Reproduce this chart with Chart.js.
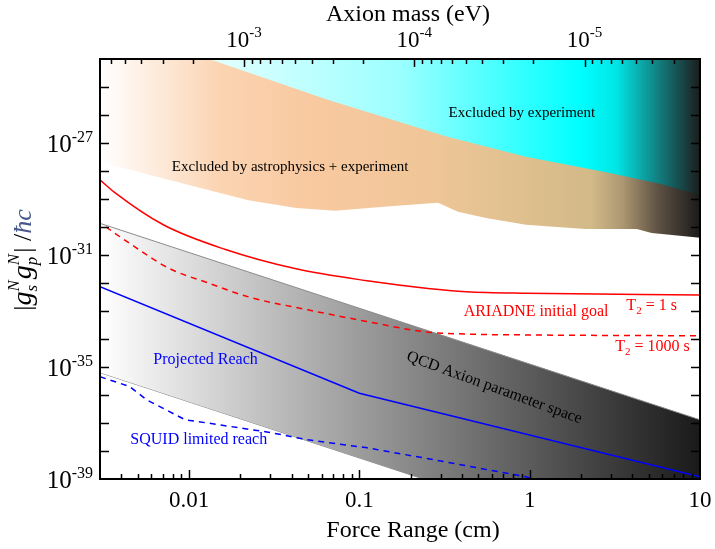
<!DOCTYPE html>
<html>
<head>
<meta charset="utf-8">
<script src="https://cdn.jsdelivr.net/npm/chart.js@4.4.1/dist/chart.umd.min.js"></script>
<style>
  html, body { margin: 0; padding: 0; background: #fff; }
  #wrap { width: 715px; height: 549px; }
</style>
</head>
<body>
<div id="wrap"><canvas id="chart" width="715" height="549"></canvas></div>
<script>
/* ── Data (force range in cm, coupling |gs gp|/ħc) ── */
const astroTopX = [0.003, 0.0131, 0.0652, 0.325, 0.95, 2.77, 5.8, 10];
const astroTopY = [1e-24, 1e-24, 3.5e-26, 1.7e-27, 3.2e-28, 9.3e-29, 3.5e-29, 1.4e-29];

const astroLowX = [0.003, 0.00766, 0.0223, 0.0425, 0.0724, 0.145, 0.29, 0.379, 0.555, 0.95, 2.11, 4.25, 5.2, 10];
const astroLowY = [2.1e-28, 4.8e-29, 9.1e-30, 4.8e-30, 3.8e-30, 5.4e-30, 7.4e-30, 3.5e-30, 2.1e-30, 1.2e-30, 8.5e-31, 8.5e-31, 6.1e-31, 4.1e-31];

const qcdX      = [0.003, 10];
const qcdUpperY = [1.35e-30, 1.3e-37];
const qcdLowerY = [6.3e-36, 5.6e-43];

const t1X = [0.003, 0.00362, 0.00706, 0.0162, 0.0425, 0.111, 0.253, 0.425, 0.95, 10];
const t1Y = [4.8e-29, 1.8e-29, 1.2e-30, 1.6e-31, 3.2e-32, 1.2e-32, 6.4e-33, 4.9e-33, 4.3e-33, 3.7e-33];

const t1000X = [0.00325, 0.00448, 0.00766, 0.0131, 0.0223, 0.0499, 0.111, 0.245, 0.425, 0.95, 10];
const t1000Y = [1.0e-30, 2.6e-31, 3.3e-32, 9.8e-33, 3.2e-33, 1.1e-33, 4.2e-34, 1.8e-34, 1.5e-34, 1.4e-34, 1.3e-34];

const reachX = [0.003, 0.1, 10];
const reachY = [7.4e-33, 1.15e-36, 1.2e-39];

const squidX = [0.003, 0.00448, 0.00567, 0.0095, 0.0131, 0.0292, 0.0499, 0.111, 0.245, 0.555, 0.95, 1.9];
const squidY = [4.5e-36, 2.0e-36, 6.6e-37, 1.3e-37, 9.8e-38, 4.7e-38, 2.5e-38, 1.3e-38, 5.5e-39, 2.2e-39, 1.2e-39, 4e-40];

/* ── Axis ticks ── */
const xTickVals   = [0.01, 0.1, 1, 10];
const xTickLabels = ['0.01', '0.1', '1', '10'];
const yTickExps   = [-27, -31, -35, -39];
const massTickExps = [-3, -4, -5];
const lambdaMass  = 2.1e-5;   // eV·cm, mass ↔ range

const SERIF = '"Liberation Serif", "Times New Roman", serif';
const zip = (xs, ys) => xs.map((x, i) => ({ x, y: ys[i] }));

function hGradient(stops) {
  return (ctx) => {
    const { chart } = ctx;
    const a = chart.chartArea;
    if (!a) return 'rgba(0,0,0,0)';
    const g = chart.ctx.createLinearGradient(a.left, 0, a.right, 0);
    stops.forEach(([p, c]) => g.addColorStop(p, c));
    return g;
  };
}

const cyanFill = hGradient([[0, '#ffffff'], [0.18, '#e4ffff'], [0.5, '#9cffff'], [0.8, '#00ffff'], [0.86, '#00e6e6'], [0.93, '#127f80'], [1, '#1c1c1c']]);
const orangeFill = hGradient([[0, '#ffffff'], [0.2, '#fbd4b2'], [0.35, '#f9c9a0'], [0.55, '#efc698'], [0.7, '#dfc08e'], [0.82, '#d2b988'], [0.87, '#ad9872'], [0.93, '#5e5244'], [1, '#1a1a1a']]);
const grayFill = hGradient([[0, '#ffffff'], [1, '#1a1a1a']]);

/* ── Text inside the plot (data coordinates) ── */
const notes = [
  { text: 'Excluded by experiment', x: 0.90, y: 1.18e-26, color: '#000', size: 15 },
  { text: 'Excluded by astrophysics + experiment', x: 0.0392, y: 1.4e-28, color: '#000', size: 15 },
  { text: 'ARIADNE initial goal', x: 1.09, y: 9.6e-34, color: '#ff0000', size: 16 },
  { text: 'Projected Reach', x: 0.0125, y: 1.8e-35, color: '#0000ff', size: 16 },
  { text: 'SQUID limited reach', x: 0.0114, y: 2.5e-38, color: '#0000ff', size: 16 },
  { text: 'QCD Axion parameter space', x: 0.62, y: 1.8e-36, color: '#000', size: 16, rot: 20 },
];

function drawPower(c, x, y, exp, big, small, align) {
  c.font = big + 'px ' + SERIF;
  const wb = c.measureText('10').width;
  c.font = small + 'px ' + SERIF;
  const sup = String(exp);
  const ws = c.measureText(sup).width;
  const x0 = align === 'right' ? x - wb - ws : x - (wb + ws) / 2;
  c.textAlign = 'left';
  c.textBaseline = 'alphabetic';
  c.font = big + 'px ' + SERIF;
  c.fillText('10', x0, y);
  c.font = small + 'px ' + SERIF;
  c.fillText(sup, x0 + wb, y - big * 0.42);
}

function drawT2(c, x, y, rest, color) {
  c.fillStyle = color;
  c.textAlign = 'left';
  c.textBaseline = 'middle';
  c.font = '16px ' + SERIF;
  const wT = c.measureText('T').width;
  c.font = '11px ' + SERIF;
  const w2 = c.measureText('2').width;
  c.font = '16px ' + SERIF;
  const wr = c.measureText(rest).width;
  let x0 = x - (wT + w2 + wr) / 2;
  c.fillText('T', x0, y);
  c.font = '11px ' + SERIF;
  c.fillText('2', x0 + wT, y + 5);
  c.font = '16px ' + SERIF;
  c.fillText(rest, x0 + wT + w2, y);
}

function drawYTitle(c, cx, cy) {
  const segs = [
    { t: '|', size: 26 },
    { t: 'g', size: 28, it: true },
    { stack: [{ t: 'N', dy: -12 }, { t: 's', dy: 6 }], size: 17 },
    { t: 'g', size: 28, it: true },
    { stack: [{ t: 'N', dy: -12 }, { t: 'p', dy: 6 }], size: 17 },
    { t: '|', size: 26 },
    { t: ' /', size: 26 },
    { t: 'ħc', size: 26, it: true, color: '#46578a' },
  ];
  const fontOf = (s, it) => (it ? 'italic ' : '') + s + 'px ' + SERIF;
  let total = 0;
  segs.forEach(s => {
    if (s.stack) {
      c.font = fontOf(s.size, true);
      s.w = Math.max(...s.stack.map(p => c.measureText(p.t).width)) + 1;
    } else {
      c.font = fontOf(s.size, s.it);
      s.w = c.measureText(s.t).width;
    }
    total += s.w;
  });
  c.save();
  c.translate(cx, cy);
  c.rotate(-Math.PI / 2);
  c.textAlign = 'left';
  c.textBaseline = 'alphabetic';
  let x = -total / 2;
  segs.forEach(s => {
    c.fillStyle = s.color || '#000';
    if (s.stack) {
      c.font = fontOf(s.size, true);
      s.stack.forEach(p => c.fillText(p.t, x, p.dy));
    } else {
      c.font = fontOf(s.size, s.it);
      c.fillText(s.t, x, 0);
    }
    x += s.w;
  });
  c.restore();
}

/* ── Frame, inward ticks, labels and notes ── */
const framePlugin = {
  id: 'frame',
  afterDatasetsDraw(chart) {
    const c = chart.ctx;
    const { x, y } = chart.scales;
    c.save();
    notes.forEach(n => {
      c.fillStyle = n.color;
      c.font = n.size + 'px ' + SERIF;
      c.textAlign = 'center';
      c.textBaseline = 'middle';
      const px = x.getPixelForValue(n.x), py = y.getPixelForValue(n.y);
      if (n.rot) {
        c.save();
        c.translate(px, py);
        c.rotate(n.rot * Math.PI / 180);
        c.fillText(n.text, 0, 0);
        c.restore();
      } else {
        c.fillText(n.text, px, py);
      }
    });
    drawT2(c, x.getPixelForValue(5.2), y.getPixelForValue(1.5e-33), ' = 1 s', '#ff0000');
    drawT2(c, x.getPixelForValue(5.26), y.getPixelForValue(5.2e-35), ' = 1000 s', '#ff0000');
    c.restore();
  },
  afterDraw(chart) {
    const c = chart.ctx;
    const { x, y, x2 } = chart.scales;
    const a = chart.chartArea;
    c.save();
    c.strokeStyle = '#000';
    c.lineWidth = 1.5;
    c.beginPath();
    // y decade ticks, both sides
    for (let e = -38; e <= -25; e++) {
      const py = Math.round(y.getPixelForValue(Math.pow(10, e))) + 0.5;
      c.moveTo(a.left, py); c.lineTo(a.left + 9, py);
      c.moveTo(a.right, py); c.lineTo(a.right - 9, py);
    }
    // bottom: force range
    for (let e = -3; e <= 1; e++) {
      for (let k = 1; k <= 9; k++) {
        const v = k * Math.pow(10, e);
        if (v <= 0.003 * 1.001 || v >= 10 * 0.999) continue;
        const px = Math.round(x.getPixelForValue(v)) + 0.5;
        c.moveTo(px, a.bottom); c.lineTo(px, a.bottom - (k === 1 ? 9 : 5));
      }
    }
    // top: axion mass
    for (let e = -6; e <= -2; e++) {
      for (let k = 1; k <= 9; k++) {
        const m = k * Math.pow(10, e);
        if (m <= x2.min * 1.001 || m >= x2.max * 0.999) continue;
        const px = Math.round(x2.getPixelForValue(m)) + 0.5;
        c.moveTo(px, a.top); c.lineTo(px, a.top + (k === 1 ? 8 : 5));
      }
    }
    c.stroke();
    c.lineWidth = 2;
    c.strokeRect(a.left, a.top, a.right - a.left, a.bottom - a.top);

    // tick labels
    c.fillStyle = '#000';
    c.font = '23px ' + SERIF;
    c.textAlign = 'center';
    c.textBaseline = 'top';
    xTickVals.forEach((v, i) => c.fillText(xTickLabels[i], x.getPixelForValue(v), a.bottom + 10));
    yTickExps.forEach(e => drawPower(c, 93, y.getPixelForValue(Math.pow(10, e)) + 9, e, 25, 16, 'right'));
    massTickExps.forEach(e => drawPower(c, x2.getPixelForValue(Math.pow(10, e)), 47, e, 23, 15, 'center'));

    // axis titles
    c.fillStyle = '#000';
    c.font = '24px ' + SERIF;
    c.textAlign = 'center';
    c.textBaseline = 'alphabetic';
    c.fillText('Force Range (cm)', (a.left + a.right) / 2 + 13, 537);
    c.fillText('Axion mass (eV)', (a.left + a.right) / 2 + 8, 21);
    drawYTitle(c, 31, 260);
    c.restore();
  }
};

const chart = new Chart(document.getElementById('chart'), {
  type: 'line',
  data: {
    datasets: [
      { label: 'Excluded by experiment', data: zip(astroTopX, astroTopY), fill: 'end',
        backgroundColor: cyanFill, borderColor: 'rgba(0,0,0,0)', borderWidth: 0, order: 9 },
      { label: 'Excluded by astrophysics + experiment', data: zip(astroLowX, astroLowY), fill: 'end',
        backgroundColor: orangeFill, borderColor: 'rgba(0,0,0,0)', borderWidth: 0, order: 10 },
      { label: 'QCD axion upper', data: zip(qcdX, qcdUpperY), fill: '+1',
        backgroundColor: grayFill, borderColor: '#8c8c8c', borderWidth: 1, order: 8 },
      { label: 'QCD axion lower', data: zip(qcdX, qcdLowerY), fill: false,
        borderColor: '#8c8c8c', borderWidth: 1, order: 8 },
      { label: 'T2 = 1 s', data: zip(t1X, t1Y), fill: false, borderColor: '#ff0000', borderWidth: 1.5,
        cubicInterpolationMode: 'monotone', order: 1 },
      { label: 'T2 = 1000 s', data: zip(t1000X, t1000Y), fill: false, borderColor: '#ff0000', borderWidth: 1.5,
        borderDash: [6, 5], cubicInterpolationMode: 'monotone', order: 1 },
      { label: 'Projected Reach', data: zip(reachX, reachY), fill: false, borderColor: '#0000ff', borderWidth: 1.5, order: 1 },
      { label: 'SQUID limited reach', data: zip(squidX, squidY), fill: false, borderColor: '#0000ff', borderWidth: 1.5,
        borderDash: [6, 5], order: 1 },
    ]
  },
  options: {
    responsive: false,
    animation: false,
    devicePixelRatio: 1,
    layout: { padding: { left: 100, right: 15, top: 59, bottom: 70 } },
    elements: { point: { radius: 0 }, line: { tension: 0 } },
    plugins: { legend: { display: false }, tooltip: { enabled: false } },
    scales: {
      x:  { type: 'logarithmic', min: 0.003, max: 10, display: false },
      y:  { type: 'logarithmic', min: 1e-39, max: 1e-24, display: false },
      x2: { type: 'logarithmic', position: 'top', min: lambdaMass / 10, max: lambdaMass / 0.003,
            reverse: true, display: false }
    }
  },
  plugins: [framePlugin]
});
</script>
</body>
</html>
